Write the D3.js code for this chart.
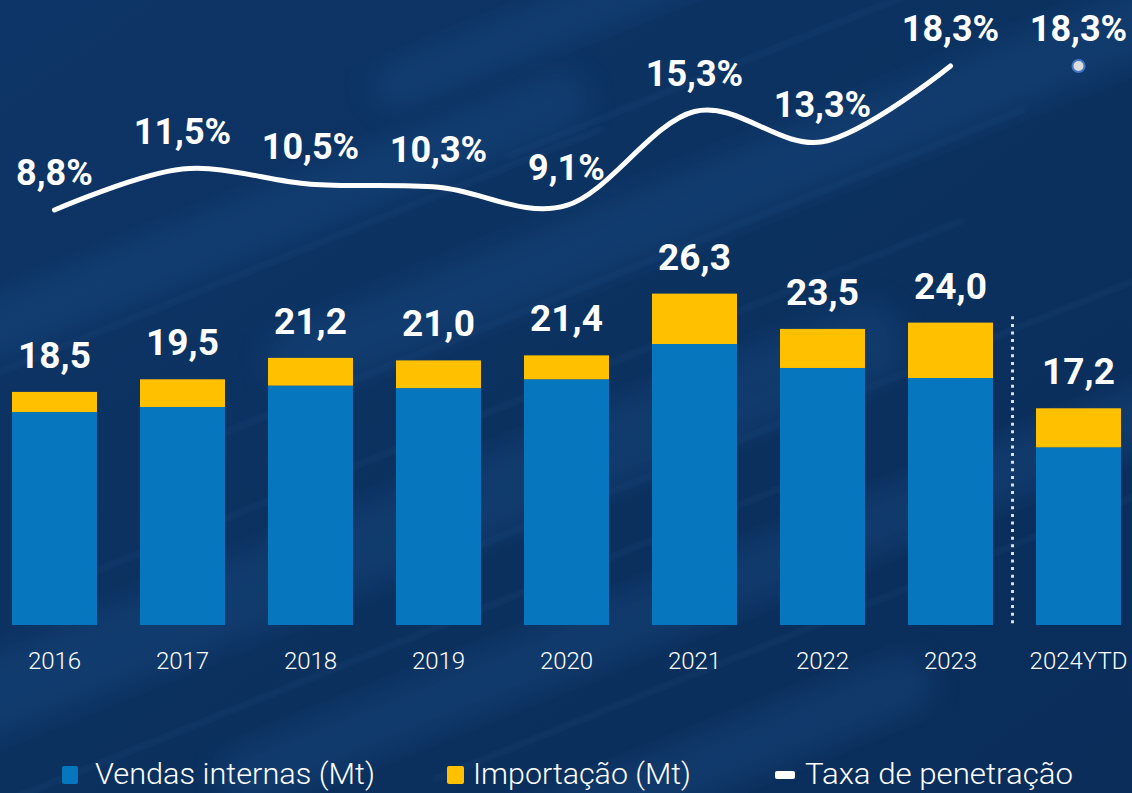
<!DOCTYPE html>
<html>
<head>
<meta charset="utf-8">
<script src="https://cdn.jsdelivr.net/npm/d3@7"></script>
<style>
  html, body { margin: 0; padding: 0; background: #0b315f; }
  svg { display: block; }
</style>
</head>
<body>
<div id="chart"></div>
<script>
// ---- Data ----
const years = ["2016", "2017", "2018", "2019", "2020", "2021", "2022", "2023", "2024YTD"];
const vendasInternas = [16.9, 17.3, 19.0, 18.8, 19.5, 22.3, 20.4, 19.6, 14.1];
const importacao = [1.6, 2.2, 2.2, 2.2, 1.9, 4.0, 3.1, 4.4, 3.1];
const totalLabels = ["18,5", "19,5", "21,2", "21,0", "21,4", "26,3", "23,5", "24,0", "17,2"];
const taxaPenetracao = [8.8, 11.5, 10.5, 10.3, 9.1, 15.3, 13.3, 18.3, 18.3];
const taxaLabels = ["8,8%", "11,5%", "10,5%", "10,3%", "9,1%", "15,3%", "13,3%", "18,3%", "18,3%"];
const legendItems = ["Vendas internas (Mt)", "Importação (Mt)", "Taxa de penetração"];

const W = 1132, H = 793;
const svg = d3.select("#chart").append("svg").attr("width", W).attr("height", H);
const defs = svg.append("defs");

// ---- Background ----
const bg = defs.append("linearGradient").attr("id", "bg").attr("x1", 0).attr("y1", 0).attr("x2", 1).attr("y2", 1);
bg.append("stop").attr("offset", "0%").attr("stop-color", "#0e3567");
bg.append("stop").attr("offset", "50%").attr("stop-color", "#0b315f");
bg.append("stop").attr("offset", "100%").attr("stop-color", "#0a2d5a");
svg.append("rect").attr("width", W).attr("height", H).attr("fill", "url(#bg)");

const blur = defs.append("filter").attr("id", "blur").attr("x", "-20%").attr("y", "-20%").attr("width", "140%").attr("height", "140%");
blur.append("feGaussianBlur").attr("stdDeviation", 14);
const blur2 = defs.append("filter").attr("id", "blur2").attr("x", "-20%").attr("y", "-50%").attr("width", "140%").attr("height", "200%");
blur2.append("feGaussianBlur").attr("stdDeviation", 3);

const streaks = svg.append("g").attr("transform", "rotate(-22 566 396)");
const wide = [[-200, 90, 900, 60], [300, 230, 1100, 70], [-300, 420, 1200, 80], [100, 600, 1300, 60], [500, 20, 900, 50], [-100, 760, 900, 60]];
wide.forEach(d => streaks.append("rect").attr("x", d[0]).attr("y", d[1]).attr("width", d[2]).attr("height", d[3])
  .attr("rx", 30).attr("fill", "#1b5088").attr("opacity", 0.35).attr("filter", "url(#blur)"));
const thin = [[-100, 160, 800], [200, 300, 900], [0, 380, 1000], [400, 500, 800], [-200, 560, 1000], [300, 700, 900], [600, 150, 700]];
thin.forEach(d => streaks.append("rect").attr("x", d[0]).attr("y", d[1]).attr("width", d[2]).attr("height", 4)
  .attr("fill", "#3a6fa8").attr("opacity", 0.18).attr("filter", "url(#blur2)"));

// ---- Scales ----
const x = d3.scaleBand().domain(years).range([-9.5, 1142.5]).paddingInner(0.336).paddingOuter(0.168);
const yBar = d3.scaleLinear().domain([0, 30]).range([625, 247]);
const yLine = d3.scaleLinear().domain([0, 20]).range([343.4, 40.2]);
const cx = d => x(d) + x.bandwidth() / 2;

const data = years.map((y, i) => ({ year: y, v: vendasInternas[i], imp: importacao[i], label: totalLabels[i], t: taxaPenetracao[i], tl: taxaLabels[i] }));

// ---- Bars ----
const bars = svg.append("g");
bars.selectAll(".v").data(data).join("rect")
  .attr("x", d => x(d.year)).attr("width", x.bandwidth())
  .attr("y", d => yBar(d.v)).attr("height", d => yBar(0) - yBar(d.v))
  .attr("fill", "#0677bf");
bars.selectAll(".i").data(data).join("rect")
  .attr("x", d => x(d.year)).attr("width", x.bandwidth())
  .attr("y", d => yBar(d.v + d.imp)).attr("height", d => yBar(d.v) - yBar(d.v + d.imp))
  .attr("fill", "#ffc000");

// total labels
svg.append("g").selectAll("text").data(data).join("text")
  .attr("x", d => cx(d.year)).attr("y", d => yBar(d.v + d.imp) - 24)
  .attr("text-anchor", "middle").attr("fill", "#ffffff")
  .attr("font-family", "Roboto, sans-serif").attr("font-weight", 700).attr("font-size", 37)
  .text(d => d.label);

// separator
const sepX = (x("2023") + x.bandwidth() + x("2024YTD")) / 2 - 2;
svg.append("line").attr("x1", sepX).attr("x2", sepX).attr("y1", yBar(24.5)).attr("y2", yBar(0))
  .attr("stroke", "#ffffff").attr("stroke-opacity", 0.85).attr("stroke-width", 3).attr("stroke-dasharray", "3,4.6");

// x axis labels
const xAxis = svg.append("g").attr("transform", "translate(0,669)")
  .call(d3.axisBottom(x).tickSize(0).tickPadding(0));
xAxis.select(".domain").remove();
xAxis.selectAll("text").attr("dy", 0).attr("y", 0).attr("fill", "#ffffff")
  .attr("font-family", "Roboto, sans-serif").attr("font-size", 24).attr("font-weight", 300);

// ---- Line ----
const lineData = data.slice(0, 8);
const line = d3.line().x(d => cx(d.year)).y(d => yLine(d.t)).curve(d3.curveCatmullRom.alpha(0));
svg.append("path").datum(lineData).attr("d", line)
  .attr("fill", "none").attr("stroke", "#ffffff").attr("stroke-width", 5).attr("stroke-linecap", "round");

// 2024 point
const last = data[8];
svg.append("circle").attr("cx", cx(last.year)).attr("cy", yLine(last.t)).attr("r", 6)
  .attr("fill", "#dcdcdc").attr("stroke", "#4577c8").attr("stroke-width", 2);

// line labels
svg.append("g").selectAll("text").data(data).join("text")
  .attr("x", d => cx(d.year)).attr("y", d => yLine(d.t) - 25)
  .attr("text-anchor", "middle").attr("fill", "#ffffff")
  .attr("font-family", "Roboto, sans-serif").attr("font-weight", 700).attr("font-size", 36)
  .text(d => d.tl);

// ---- Legend ----
const leg = svg.append("g").attr("font-family", "Roboto, sans-serif").attr("font-weight", 300).attr("font-size", 30).attr("fill", "#ffffff");
const legendDefs = [
  { mx: 62, mw: 16, my: 766, mh: 18, color: "#0677bf", tx: 95, tw: 280 },
  { mx: 447, mw: 17, my: 766, mh: 18, color: "#ffc000", tx: 473, tw: 218 },
  { mx: 775, mw: 20, my: 771, mh: 8, color: "#ffffff", tx: 805, tw: 268 }
];
legendDefs.forEach((d, i) => {
  leg.append("rect").attr("x", d.mx).attr("y", d.my).attr("width", d.mw).attr("height", d.mh).attr("rx", 2).attr("fill", d.color);
  leg.append("text").attr("x", d.tx).attr("y", 784).attr("textLength", d.tw).attr("lengthAdjust", "spacingAndGlyphs").text(legendItems[i]);
});
</script>
</body>
</html>
